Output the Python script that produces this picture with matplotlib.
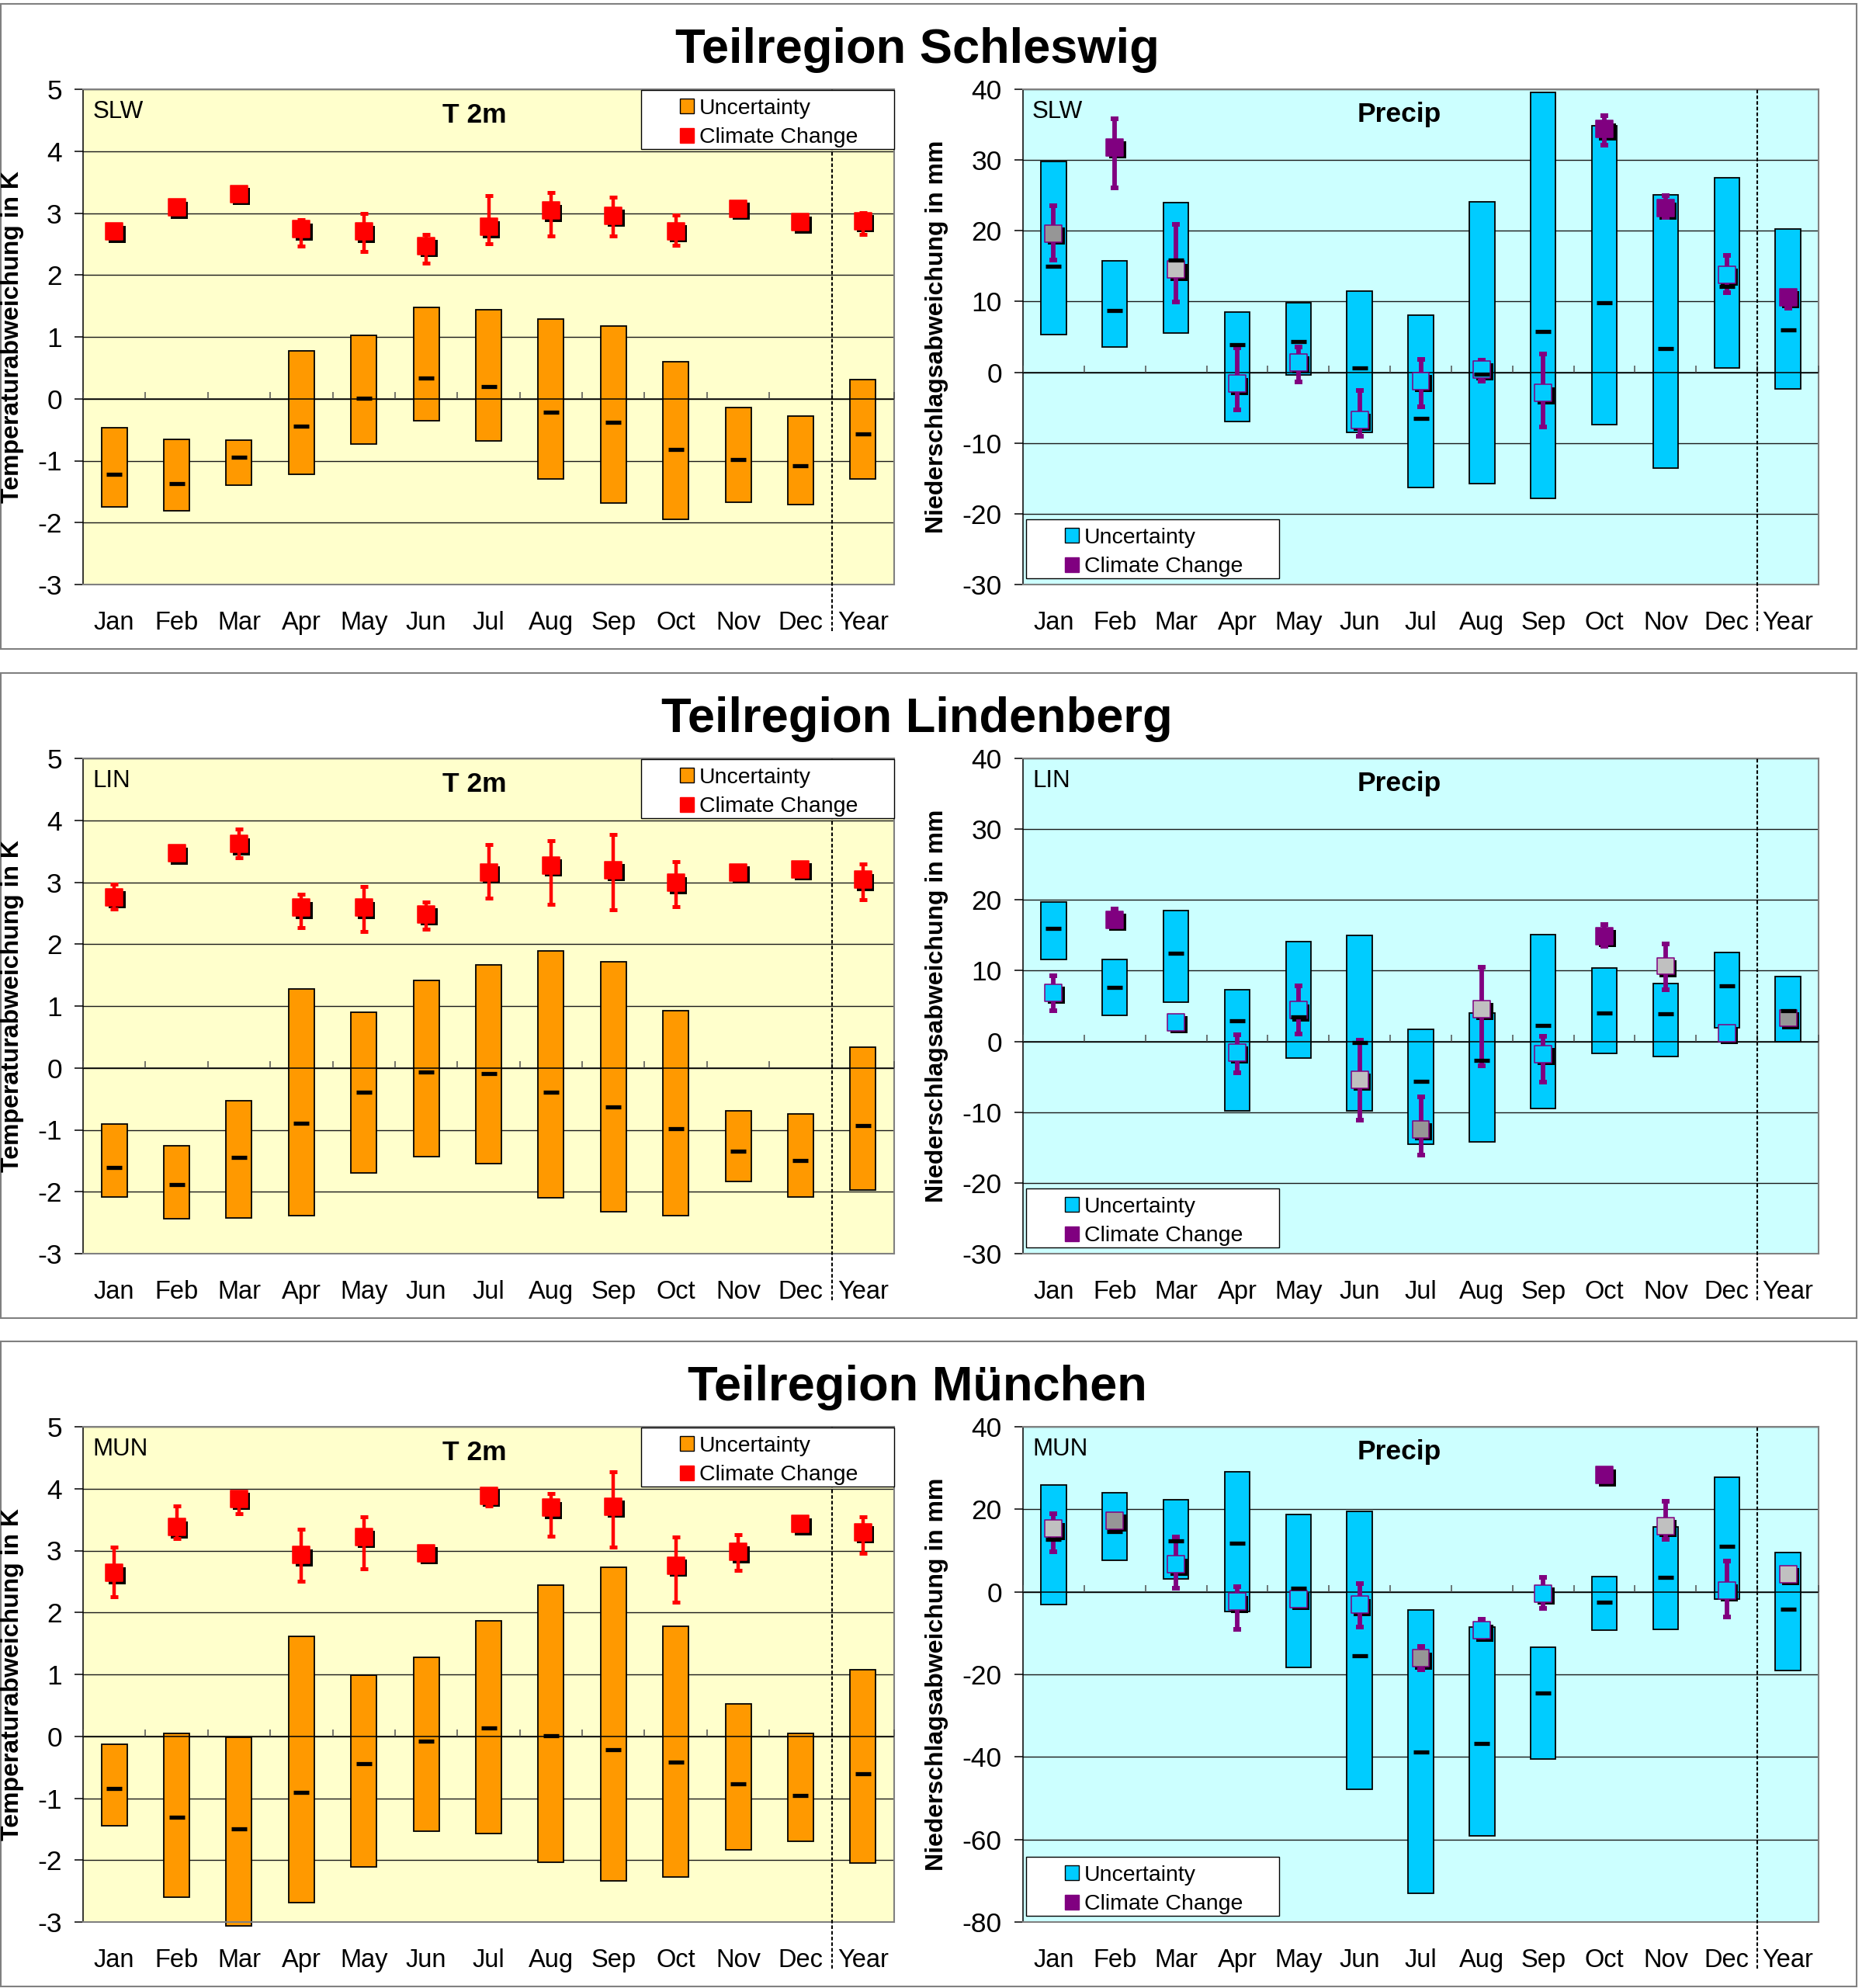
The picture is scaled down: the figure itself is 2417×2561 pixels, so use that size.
import numpy as np
import matplotlib
matplotlib.use('Agg')
import matplotlib.pyplot as plt
from matplotlib.patches import Rectangle
from matplotlib.transforms import offset_copy

plt.rcParams['font.family'] = ['Liberation Sans', 'DejaVu Sans']
plt.rcParams['axes.unicode_minus'] = False

W, H, DPI = 2417, 2561, 100

MONTHS = ['Jan', 'Feb', 'Mar', 'Apr', 'May', 'Jun', 'Jul', 'Aug', 'Sep', 'Oct', 'Nov', 'Dec', 'Year']
REGION_NAMES = ['Schleswig', 'Lindenberg', 'München']
REGION_CODES = ['SLW', 'LIN', 'MUN']

##------------------------------------ T 2m data (K) ------------------------------------
slw_t_lo = [-1.74, -1.81, -1.39, -1.22, -0.73, -0.36, -0.68, -1.30, -1.68, -1.95, -1.67, -1.71, -1.29]
slw_t_hi = [-0.47, -0.65, -0.67, 0.78, 1.02, 1.48, 1.44, 1.29, 1.18, 0.60, -0.14, -0.28, 0.31]
slw_t_med = [-1.22, -1.37, -0.94, -0.44, 0.01, 0.33, 0.20, -0.22, -0.38, -0.82, -0.98, -1.08, -0.57]
slw_t_cc = [2.70, 3.09, 3.31, 2.74, 2.70, 2.47, 2.78, 3.04, 2.96, 2.71, 3.07, 2.85, 2.87]
slw_t_cc_lo = [2.66, 3.05, 3.27, 2.47, 2.38, 2.19, 2.50, 2.63, 2.63, 2.48, 3.03, 2.81, 2.65]
slw_t_cc_hi = [2.74, 3.13, 3.35, 2.89, 2.99, 2.66, 3.28, 3.33, 3.26, 2.97, 3.11, 2.89, 3.01]

lin_t_lo = [-2.09, -2.44, -2.42, -2.38, -1.69, -1.43, -1.54, -2.10, -2.32, -2.39, -1.84, -2.09, -1.97]
lin_t_hi = [-0.90, -1.26, -0.53, 1.27, 0.90, 1.41, 1.67, 1.89, 1.72, 0.93, -0.69, -0.74, 0.33]
lin_t_med = [-1.61, -1.89, -1.44, -0.89, -0.39, -0.06, -0.09, -0.39, -0.63, -0.98, -1.34, -1.50, -0.93]
lin_t_cc = [2.76, 3.47, 3.62, 2.59, 2.59, 2.48, 3.16, 3.27, 3.20, 2.99, 3.16, 3.21, 3.04]
lin_t_cc_lo = [2.57, 3.43, 3.39, 2.27, 2.21, 2.24, 2.74, 2.64, 2.56, 2.60, 3.12, 3.15, 2.72]
lin_t_cc_hi = [2.97, 3.52, 3.86, 2.81, 2.93, 2.68, 3.61, 3.67, 3.77, 3.33, 3.20, 3.30, 3.30]

mun_t_lo = [-1.45, -2.60, -3.06, -2.69, -2.11, -1.53, -1.57, -2.03, -2.34, -2.27, -1.84, -1.69, -2.05]
mun_t_hi = [-0.13, 0.05, -0.02, 1.62, 0.99, 1.27, 1.86, 2.44, 2.73, 1.78, 0.52, 0.05, 1.08]
mun_t_med = [-0.84, -1.31, -1.49, -0.90, -0.44, -0.08, 0.13, 0.01, -0.22, -0.42, -0.77, -0.96, -0.61]
mun_t_cc = [2.64, 3.38, 3.84, 2.93, 3.22, 2.96, 3.89, 3.69, 3.71, 2.76, 2.98, 3.43, 3.30]
mun_t_cc_lo = [2.25, 3.20, 3.60, 2.51, 2.71, 2.90, 3.72, 3.23, 3.06, 2.17, 2.68, 3.38, 2.95]
mun_t_cc_hi = [3.06, 3.72, 3.94, 3.34, 3.55, 3.02, 3.95, 3.92, 4.27, 3.22, 3.26, 3.48, 3.55]

##------------------------------------ Precip data (mm) ---------------------------------
slw_p_lo = [5.3, 3.6, 5.5, -7.0, -0.4, -8.5, -16.3, -15.7, -17.8, -7.4, -13.5, 0.6, -2.3]
slw_p_hi = [29.8, 15.8, 24.0, 8.5, 9.8, 11.5, 8.1, 24.1, 39.6, 34.8, 25.1, 27.5, 20.2]
slw_p_med = [15.0, 8.75, 15.9, 3.9, 4.3, 0.6, -6.5, -0.3, 5.8, 9.8, 3.3, 12.1, 6.0]
slw_p_cc = [19.6, 31.8, 14.5, -1.6, 1.4, -6.7, -1.25, 0.4, -2.9, 34.4, 23.2, 13.8, 10.6]
slw_p_cc_lo = [15.9, 26.1, 9.9, -5.3, -1.4, -9.0, -4.9, -1.2, -7.7, 32.1, 21.9, 11.3, 9.1]
slw_p_cc_hi = [23.5, 35.8, 20.9, 3.5, 3.6, -2.6, 1.8, 1.7, 2.6, 36.3, 25.0, 16.5, 11.2]
slw_p_sig = ['d', 'p', 'l', 'c', 'c', 'c', 'c', 'c', 'c', 'p', 'p', 'c', 'p']

lin_p_lo = [11.6, 3.7, 5.6, -9.8, -2.4, -9.85, -14.5, -14.2, -9.5, -1.7, -2.1, 1.96, 0.0]
lin_p_hi = [19.7, 11.6, 18.5, 7.3, 14.1, 15.0, 1.75, 4.0, 15.1, 10.4, 8.2, 12.6, 9.2]
lin_p_med = [16.0, 7.6, 12.5, 2.9, 3.5, -0.2, -5.6, -2.7, 2.3, 4.05, 3.9, 7.8, 4.3]
lin_p_cc = [6.9, 17.2, 2.7, -1.56, 4.4, -5.4, -12.4, 4.6, -1.8, 14.9, 10.65, 1.2, 3.3]
lin_p_cc_lo = [4.35, 16.5, 2.3, -4.4, 1.05, -11.1, -16.1, -3.5, -5.7, 13.4, 7.3, 0.8, 2.9]
lin_p_cc_hi = [9.3, 18.7, 3.1, 0.95, 7.8, 0.2, -7.8, 10.5, 0.7, 16.5, 13.8, 1.6, 3.7]
lin_p_sig = ['c', 'p', 'c', 'c', 'c', 'l', 'd', 'l', 'c', 'p', 'l', 'c', 'd']

mun_p_lo = [-3.15, 7.6, 3.15, -4.8, -18.4, -47.8, -73.0, -59.2, -40.5, -9.35, -9.1, -1.7, -19.0]
mun_p_hi = [25.8, 24.1, 22.4, 29.0, 18.7, 19.5, -4.4, -8.55, -13.5, 3.75, 15.7, 27.8, 9.55]
mun_p_med = [12.7, 14.7, 12.4, 11.8, 0.85, -15.5, -38.8, -36.8, -24.5, -2.6, 3.55, 11.1, -4.2]
mun_p_cc = [15.3, 17.3, 6.65, -2.4, -1.75, -3.1, -16.1, -9.3, -0.4, 28.3, 16.0, 0.4, 4.3]
mun_p_cc_lo = [9.7, 16.1, 0.85, -9.0, -2.9, -8.55, -18.8, -11.0, -4.1, 27.3, 12.8, -6.1, 3.1]
mun_p_cc_hi = [18.9, 18.5, 13.2, 1.25, -0.6, 2.1, -13.2, -6.6, 3.5, 29.3, 21.9, 7.4, 5.5]
mun_p_sig = ['l', 'd', 'c', 'c', 'c', 'c', 'd', 'c', 'c', 'p', 'l', 'c', 'l']

T_DATA = [
    (slw_t_lo, slw_t_hi, slw_t_med, slw_t_cc, slw_t_cc_lo, slw_t_cc_hi),
    (lin_t_lo, lin_t_hi, lin_t_med, lin_t_cc, lin_t_cc_lo, lin_t_cc_hi),
    (mun_t_lo, mun_t_hi, mun_t_med, mun_t_cc, mun_t_cc_lo, mun_t_cc_hi),
]
P_DATA = [
    (slw_p_lo, slw_p_hi, slw_p_med, slw_p_cc, slw_p_cc_lo, slw_p_cc_hi, slw_p_sig),
    (lin_p_lo, lin_p_hi, lin_p_med, lin_p_cc, lin_p_cc_lo, lin_p_cc_hi, lin_p_sig),
    (mun_p_lo, mun_p_hi, mun_p_med, mun_p_cc, mun_p_cc_lo, mun_p_cc_hi, mun_p_sig),
]
T_LIMITS = (-3, 5, 1)
P_LIMITS = [(-30, 40, 10), (-30, 40, 10), (-80, 40, 20)]

ORANGE = '#FF9900'
RED = '#FF0000'
CYAN = '#00CCFF'
PURPLE = '#800080'
SIG_COLORS = {'p': PURPLE, 'd': '#969696', 'l': '#C0C0C0', 'c': CYAN}

PANEL_DY = [0, 862, 1723]

fig = plt.figure(figsize=(W / DPI, H / DPI), dpi=DPI)


def fx(x):
    return x / W


def fy(y):
    return 1 - y / H


def axes_px(left, top, width, height):
    return fig.add_axes([fx(left), fy(top + height), width / W, height / H])


def frame_box(left, top, width, height, **kw):
    r = Rectangle((fx(left), fy(top + height)), width / W, height / H,
                  transform=fig.transFigure, **kw)
    fig.add_artist(r)
    return r


def key_box(left, top, entries):
    # legend drawn by hand: white box, two colour squares, two labels
    frame_box(left, top, 326, 76, facecolor='white', edgecolor='black', lw=1.0, zorder=10)
    for i, (label, face, edge) in enumerate(entries):
        frame_box(left + 50, top + 11 + 38 * i, 18, 19, facecolor=face, edgecolor=edge,
                  lw=1.0, zorder=11)
        fig.text(fx(left + 75), fy(top + 31 + 37 * i), label, fontsize=20.5,
                 va='baseline', zorder=12)


def range_chart(ax, lo, hi, med, cc, cc_lo, cc_hi, fills, edges, bar_color, err_color,
                limits, bg, sq, elw, cthick):
    """uncertainty range as floating bar + climate change signal as square with error bar"""
    lo, hi, med = np.asarray(lo), np.asarray(hi), np.asarray(med)
    cc, cc_lo, cc_hi = np.asarray(cc), np.asarray(cc_lo), np.asarray(cc_hi)
    n = len(MONTHS)
    x = np.arange(n)
    ymin, ymax, step = limits

    ax.set_facecolor(bg)
    ax.set_xlim(-0.5, n - 0.5)
    ax.set_ylim(ymin, ymax)
    ax.set_yticks(np.arange(ymin, ymax + step, step))
    ax.yaxis.grid(True, color='#1a1a1a', lw=1.0)
    ax.set_axisbelow(True)

    ax.bar(x, hi - lo, width=0.41, bottom=lo, color=bar_color, edgecolor='black',
           linewidth=1.3, zorder=2, clip_on=False)
    # zero line with small category ticks
    ax.axhline(0, color='black', lw=1.1, zorder=3)
    ax.plot(np.arange(n + 1) - 0.5, np.zeros(n + 1), ls='none', marker=2, ms=6.7,
            mew=1.1, color='#505050', zorder=3)

    shadow = offset_copy(ax.transData, fig=fig, x=3.5, y=-3.5, units='dots')
    ax.plot(x, cc, ls='none', marker='s', ms=sq, mew=0, color='black',
            transform=shadow, zorder=4)
    ax.errorbar(x, cc, yerr=[cc - cc_lo, cc_hi - cc], fmt='none', ecolor=err_color,
                elinewidth=elw, capsize=3.6, capthick=cthick, zorder=5)
    ax.scatter(x, cc, marker='s', s=sq ** 2, c=fills, edgecolors=edges,
               linewidths=1.1, zorder=6)
    ax.plot(x, med, ls='none', marker='_', ms=14.4, mew=3.8, color='black', zorder=7)

    # separator between months and annual value
    ax.axvline(n - 1.5, ymin=-0.094, ymax=1, color='black', lw=1.5,
               ls=(0, (2.2, 1.3)), clip_on=False, zorder=8)

    ax.set_xticks(x, MONTHS)
    ax.tick_params(axis='x', length=0, pad=24.5, labelsize=23.5)
    ax.tick_params(axis='y', direction='out', length=7.6, width=1.1, pad=12, labelsize=25.5)
    for side in ('top', 'right', 'bottom'):
        ax.spines[side].set_color('#808080')
        ax.spines[side].set_linewidth(1.5)
    ax.spines['left'].set_linewidth(1.1)


for i, name in enumerate(REGION_NAMES):
    dy = PANEL_DY[i]
    frame_box(1, 5 + dy, 2391, 831, facecolor='none', edgecolor='#808080', lw=1.5, zorder=1)
    fig.text(fx(1181.5), fy(81 + dy), 'Teilregion ' + name, ha='center', va='baseline',
             fontsize=45.5, fontweight='bold')

    # ---- temperature ----
    ax_t = axes_px(107, 115 + dy, 1045, 638)
    lo, hi, med, cc, cc_lo, cc_hi = T_DATA[i]
    range_chart(ax_t, lo, hi, med, cc, cc_lo, cc_hi, RED, RED, ORANGE, RED,
                T_LIMITS, '#FFFFCC', 16.5, 3.2, 3.6)
    fig.text(fx(16.4), fy(434 + dy), 'Temperaturabweichung in K', rotation=90,
             ha='center', va='center', fontsize=23, fontweight='bold')
    fig.text(fx(119.5), fy(151.7 + dy), REGION_CODES[i], fontsize=22.5, va='baseline')
    fig.text(fx(611.5), fy(158 + dy), 'T 2m', ha='center', va='baseline',
             fontsize=25.5, fontweight='bold')
    key_box(826, 116 + dy, [('Uncertainty', ORANGE, 'black'), ('Climate Change', RED, RED)])

    # ---- precipitation ----
    ax_p = axes_px(1318, 115 + dy, 1025, 638)
    lo, hi, med, cc, cc_lo, cc_hi, sig = P_DATA[i]
    fills = [SIG_COLORS[s] for s in sig]
    range_chart(ax_p, lo, hi, med, cc, cc_lo, cc_hi, fills, PURPLE, CYAN, PURPLE,
                P_LIMITS[i], '#CCFFFF', 15.8, 4.2, 4.3)
    fig.text(fx(1207), fy(434 + dy), 'Niederschlagsabweichung in mm', rotation=90,
             ha='center', va='center', fontsize=23, fontweight='bold')
    fig.text(fx(1330), fy(151.7 + dy), REGION_CODES[i], fontsize=22.5, va='baseline')
    fig.text(fx(1803), fy(157 + dy), 'Precip', ha='center', va='baseline',
             fontsize=25.5, fontweight='bold')
    key_box(1322, 669 + dy, [('Uncertainty', CYAN, 'black'), ('Climate Change', PURPLE, PURPLE)])

fig.savefig('out.png', dpi=DPI, facecolor='white')
